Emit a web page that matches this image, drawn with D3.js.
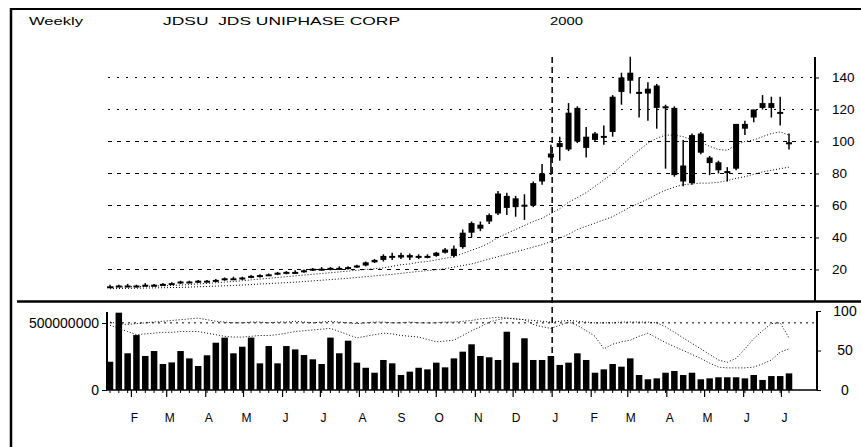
<!DOCTYPE html>
<html><head><meta charset="utf-8">
<script src="https://cdn.jsdelivr.net/npm/d3@7/dist/d3.min.js"></script>
<style>html,body{margin:0;padding:0;background:#fff;}svg{display:block;font-family:"Liberation Sans",Arial,sans-serif;}</style>
</head><body><svg id="c" width="861" height="447"></svg>
<script>
// ---------- DATA ----------
const firstWeek = "1999-01-15";
const weekCount = 78;
const openP  = [9.0,9.5,10.0,9.5,10.0,10.5,10.0,11.0,11.5,12.5,12.0,13.0,12.5,13.5,14.5,14.0,15.0,16.0,16.5,17.0,18.0,18.5,18.5,19.5,20.5,20.0,21.0,20.5,21.5,22.5,24.5,26.0,28.5,27.5,29.0,27.5,28.5,28.5,30.5,33.0,34.0,43.0,48.0,50.0,55.0,66.0,59.0,60.5,60.0,75.0,90.0,96.5,95.0,121.0,96.0,101.0,103.0,106.0,131.0,138.0,131.0,133.0,135.0,122.0,121.0,85.0,74.0,105.0,90.0,87.0,81.5,83.0,108.0,115.0,121.0,124.0,118.5,99.5];
const highP  = [10.5,10.5,11.0,10.5,11.5,11.0,11.5,12.0,13.0,13.0,13.5,13.5,14.0,15.0,15.5,15.5,16.5,17.0,17.5,18.5,19.0,19.5,20.0,21.0,21.5,21.5,22.0,22.0,23.0,25.0,26.5,29.5,30.5,30.5,30.0,29.5,29.5,31.0,33.5,35.0,45.0,50.0,50.0,55.0,69.0,68.0,66.0,67.0,75.0,86.0,98.0,103.0,124.0,122.0,109.0,106.0,110.0,129.0,143.0,153.0,140.0,137.0,136.0,123.0,122.0,101.0,105.0,106.0,91.0,88.0,84.0,111.0,113.0,120.0,129.0,128.0,128.0,105.0];
const lowP   = [8.5,9.0,9.0,8.8,9.5,9.5,9.8,10.5,11.0,11.5,11.5,12.0,12.0,13.0,13.5,13.5,14.5,15.0,16.0,16.5,17.0,17.5,18.0,19.0,19.5,19.5,20.0,20.0,21.0,22.0,24.0,25.0,26.0,26.5,26.0,26.5,27.0,28.0,30.0,27.5,33.0,40.0,44.0,48.5,54.0,54.0,53.0,51.0,59.0,73.0,79.0,88.0,94.0,99.0,90.0,100.0,98.0,103.0,123.0,130.0,115.0,113.0,108.0,83.0,78.0,72.0,73.0,92.0,79.0,80.0,75.0,82.0,104.0,112.0,120.0,115.0,110.0,95.0];
const closeP = [9.5,10.0,9.5,10.0,10.5,10.0,11.0,11.5,12.5,12.0,13.0,12.5,13.5,14.5,14.0,15.0,16.0,16.5,17.0,18.0,18.5,18.5,19.5,20.5,20.0,21.0,20.5,21.5,22.5,24.5,26.0,28.5,27.5,29.0,27.5,28.5,28.5,30.5,32.5,28.5,43.0,49.0,45.5,54.0,67.5,58.5,64.5,60.0,74.0,80.0,92.5,99.0,118.0,100.0,103.0,105.0,103.5,128.0,140.0,143.0,130.0,130.0,121.0,121.5,79.0,75.0,104.0,93.0,86.5,82.0,81.0,111.0,111.0,120.0,124.0,121.0,118.0,99.0];
const maShort = [9,9,9.2,9.3,9.5,9.6,9.8,10,10.3,10.6,11,11.3,11.7,12.1,12.5,13,13.5,14,14.5,15,15.5,16,16.5,17,17.5,18,18.5,19,19.5,20,20.5,21,22,23,23.5,24.5,25,26,27,28,30,32,34,36.5,40,42.5,45,47.5,50,52,55,58,62,65,68,72,76,80,85,90,94.5,99,102,104,104,103,101,99.5,97,95,94.5,98,100,101,103,105,106,104];
const maLong = [8,8.1,8.2,8.3,8.4,8.5,8.6,8.7,8.8,9,9.2,9.4,9.6,9.8,10,10.3,10.6,10.9,11.2,11.5,11.8,12.1,12.5,12.9,13.3,13.7,14.1,14.5,15,15.5,16,16.5,17,17.6,18.2,18.8,19.3,19.8,20.5,21.5,22.5,23.5,25,26.5,28,29.5,31,32.5,34,35.5,37.5,39.5,42,45,47,49,51,53,56,59,61.5,64,67,69.5,71.5,73,73.5,74,74,74.5,75.5,77,78,79.5,81,82,83,84];
const volume = [211,577,274,410,254,291,194,206,291,236,179,259,353,391,274,323,391,199,328,199,328,303,261,229,194,391,274,368,204,166,129,224,199,112,137,166,154,204,169,236,286,341,254,244,224,435,204,386,224,224,254,187,204,274,224,129,154,194,174,236,112,80,87,129,142,112,129,80,87,95,95,95,87,112,75,104,104,124].map(v => v * 1e6);
const oscFast = [82,78,74,70,71,72,73,73,74,74,74,72,70,68,67,67,68,69,69,70,72,74,75,76,77,78,74,70,66,68,70,72,71,69,68,67,64,61,62,63,69,75,80,86,89,91,90,89,83,80,78,82,86,82,75,68,52,58,61,63,68,72,66,60,55,50,45,40,34,29,28,28,28,29,33,38,48,52];
const oscSlow = [86,84,83,84,85,86,87,88,89,90,91,89,87,86,85,85,86,86,85,86,86,87,86,85,86,87,86,85,84,85,86,86,85,85,86,85,85,85,86,86,87,88,90,91,92,91,90,89,88,87,86,87,88,87,86,85,85,85,86,86,86,86,85,80,73,66,59,52,45,38,35,40,52,65,75,84,85,66];
const oscRefLevel = [85];
const priceTicks = [20,40,60,80,100,120,140];
const volumeTicks = [0, 500000000];
const oscTicks = [0,50,100];
const monthLabels = ["F","M","A","M","J","J","A","S","O","N","D","J","F","M","A","M","J","J"];
const yearLabel = "2000";
const titleLeft = "Weekly";
const titleMain = "JDSU  JDS UNIPHASE CORP";

// ---------- BUILD ----------
const start = d3.timeParse("%Y-%m-%d")(firstWeek);
const weeks = d3.range(weekCount).map(i => d3.timeWeek.offset(start, i));
const data = weeks.map((d, i) => ({d, o: openP[i], h: highP[i], l: lowP[i], c: closeP[i], ma1: maShort[i], ma2: maLong[i], v: volume[i], f: oscFast[i], s: oscSlow[i]}));
const monthStarts = d3.timeMonth.range(new Date(1999,1,1), new Date(2000,7,1));
const yearStart = new Date(2000,0,1);

const svg = d3.select("#c");
const x = d3.scaleTime().domain([weeks[0], weeks[weeks.length-1]]).range([110, 789]);
const yP = d3.scaleLinear().domain([0,160]).range([301.5, 45.5]);
const yV = d3.scaleLinear().domain([0,500e6]).range([390, 323]);
const yO = d3.scaleLinear().domain([0,100]).range([390, 311]);

// frame
svg.append("line").attr("x1",10).attr("x2",861).attr("y1",9).attr("y2",9).attr("stroke","#000").attr("stroke-width",2);
svg.append("line").attr("x1",11).attr("x2",11).attr("y1",8).attr("y2",447).attr("stroke","#000").attr("stroke-width",2.5);
svg.append("line").attr("x1",17).attr("x2",861).attr("y1",301.5).attr("y2",301.5).attr("stroke","#000").attr("stroke-width",2.5);

// titles
svg.append("text").attr("x",29).attr("y",25).attr("font-size",11).attr("textLength",54).attr("lengthAdjust","spacingAndGlyphs").text(titleLeft);
svg.append("text").attr("x",163).attr("y",25).attr("font-size",11).attr("textLength",237).attr("lengthAdjust","spacingAndGlyphs").attr("xml:space","preserve").text(titleMain);
svg.append("text").attr("x",550).attr("y",25).attr("font-size",11).attr("textLength",33).attr("lengthAdjust","spacingAndGlyphs").text(yearLabel);

// price gridlines
svg.append("g").selectAll("line").data(priceTicks).join("line")
  .attr("x1",108).attr("x2",812).attr("y1",d=>yP(d)).attr("y2",d=>yP(d))
  .attr("stroke","#000").attr("stroke-width",1).attr("stroke-dasharray",d=>d>=120?"2,7":"4,5");

// year divider
svg.append("line").attr("x1",x(yearStart)).attr("x2",x(yearStart)).attr("y1",57).attr("y2",390)
  .attr("stroke","#000").attr("stroke-width",1.5).attr("stroke-dasharray","6,4");

// moving averages
const maLine = key => d3.line().x(d=>x(d.d)).y(d=>yP(d[key]));
svg.append("path").datum(data).attr("d",maLine("ma1")).attr("fill","none").attr("stroke","#000").attr("stroke-width",1).attr("stroke-dasharray","1,2");
svg.append("path").datum(data).attr("d",maLine("ma2")).attr("fill","none").attr("stroke","#000").attr("stroke-width",1).attr("stroke-dasharray","1,2");

// candles
const cg = svg.append("g");
cg.selectAll("line").data(data).join("line")
  .attr("x1",d=>x(d.d)).attr("x2",d=>x(d.d)).attr("y1",d=>yP(d.h)).attr("y2",d=>yP(d.l))
  .attr("stroke","#000").attr("stroke-width",1.5);
cg.selectAll("rect").data(data).join("rect")
  .attr("x",d=>x(d.d)-3).attr("width",6)
  .attr("y",d=>yP(Math.max(d.o,d.c)))
  .attr("height",d=>Math.max(2, Math.abs(yP(d.o)-yP(d.c))))
  .attr("fill","#000");

// price axis (right)
const pAxis = svg.append("g").attr("transform","translate(815,0)")
  .call(d3.axisRight(yP).tickValues(priceTicks).tickSize(4).tickSizeOuter(0).tickPadding(13));
pAxis.select(".domain").attr("d", `M0,57V301`).attr("stroke-width",2);
pAxis.selectAll("text").attr("font-size",13.5).attr("text-anchor","start").attr("fill","#000").attr("font-family","Liberation Sans, Arial, sans-serif");

// volume bars
svg.append("g").selectAll("rect").data(data).join("rect")
  .attr("x",d=>x(d.d)-3.25).attr("width",6.5)
  .attr("y",d=>yV(d.v)).attr("height",d=>yV(0)-yV(d.v)).attr("fill","#000");

// oscillators
svg.append("g").selectAll("line").data(oscRefLevel).join("line")
  .attr("x1",110).attr("x2",815).attr("y1",d=>yO(d)).attr("y2",d=>yO(d))
  .attr("stroke","#000").attr("stroke-dasharray","2,4");
const oLine = key => d3.line().x(d=>x(d.d)).y(d=>yO(d[key]));
svg.append("path").datum(data).attr("d",oLine("f")).attr("fill","none").attr("stroke","#000").attr("stroke-width",1).attr("stroke-dasharray","1,2");
svg.append("path").datum(data).attr("d",oLine("s")).attr("fill","none").attr("stroke","#000").attr("stroke-width",1).attr("stroke-dasharray","1,2");

// volume axis (left)
const vAxis = svg.append("g").attr("transform","translate(107,0)")
  .call(d3.axisLeft(yV).tickValues(volumeTicks).tickFormat(d3.format("d")).tickSize(5).tickSizeOuter(0).tickPadding(3));
vAxis.select(".domain").attr("d","M0,312V390").attr("stroke-width",2);
vAxis.selectAll("text").attr("font-size",14).attr("fill","#000").attr("font-family","Liberation Sans, Arial, sans-serif");

// osc axis (right)
const oAxis = svg.append("g").attr("transform","translate(817,0)")
  .call(d3.axisRight(yO).tickValues(oscTicks).tickSize(4).tickSizeOuter(0).tickPadding(24));
oAxis.select(".domain").attr("d","M0,311V390").attr("stroke-width",2);
oAxis.selectAll("text").attr("font-size",14).attr("text-anchor","middle").attr("fill","#000").attr("font-family","Liberation Sans, Arial, sans-serif");

// time axis
svg.append("line").attr("x1",107).attr("x2",817).attr("y1",390).attr("y2",390).attr("stroke","#000").attr("stroke-width",1.5);
svg.append("g").selectAll("line").data(weeks).join("line")
  .attr("x1",d=>x(d)).attr("x2",d=>x(d)).attr("y1",390).attr("y2",393).attr("stroke","#000");
svg.append("g").selectAll("line").data(monthStarts).join("line")
  .attr("x1",d=>x(d)).attr("x2",d=>x(d)).attr("y1",390).attr("y2",397).attr("stroke","#000").attr("stroke-width",1.2);
svg.append("g").selectAll("text").data(monthStarts).join("text")
  .attr("x",d=>x(d)+3).attr("y",422).attr("text-anchor","middle").attr("font-size",12)
  .text((d,i)=>monthLabels[i]);
</script></body></html>
